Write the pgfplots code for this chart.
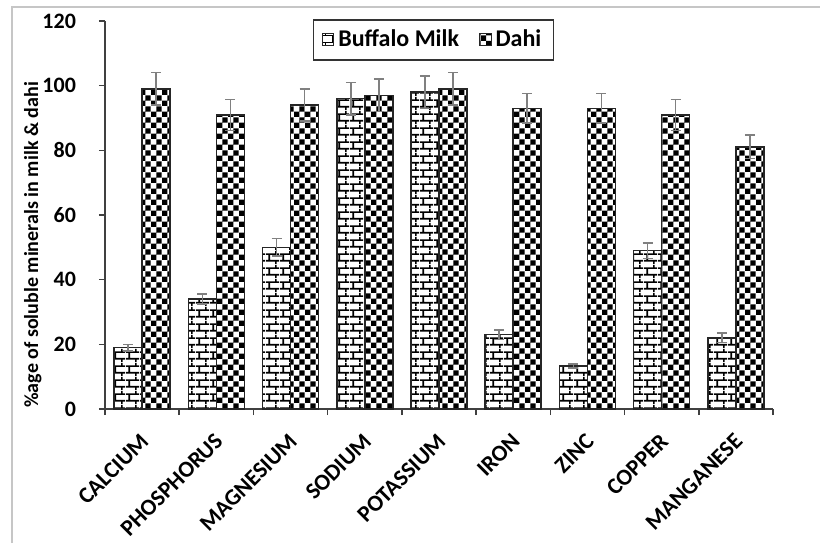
\documentclass[border=0pt]{standalone}
\usepackage{pgfplots}
\pgfplotsset{compat=1.18}
\usepackage{fontspec}
\setmainfont{Carlito}
\usetikzlibrary{patterns}

\pgfdeclarepatternformonly{mybricks}{\pgfqpoint{0pt}{0pt}}{\pgfqpoint{7pt}{7pt}}{\pgfqpoint{7pt}{7pt}}{%
  \pgfsetlinewidth{0.85pt}%
  \pgfpathmoveto{\pgfqpoint{0pt}{1.75pt}}\pgfpathlineto{\pgfqpoint{7pt}{1.75pt}}%
  \pgfpathmoveto{\pgfqpoint{0pt}{5.25pt}}\pgfpathlineto{\pgfqpoint{7pt}{5.25pt}}%
  \pgfpathmoveto{\pgfqpoint{1.75pt}{1.75pt}}\pgfpathlineto{\pgfqpoint{1.75pt}{5.25pt}}%
  \pgfpathmoveto{\pgfqpoint{5.25pt}{5.25pt}}\pgfpathlineto{\pgfqpoint{5.25pt}{7pt}}%
  \pgfpathmoveto{\pgfqpoint{5.25pt}{0pt}}\pgfpathlineto{\pgfqpoint{5.25pt}{1.75pt}}%
  \pgfusepath{stroke}%
}
\pgfdeclarepatternformonly{mycheck}{\pgfqpoint{0pt}{0pt}}{\pgfqpoint{5.4pt}{5.4pt}}{\pgfqpoint{5.4pt}{5.4pt}}{%
  \pgfpathrectangle{\pgfqpoint{0pt}{0pt}}{\pgfqpoint{2.7pt}{2.7pt}}%
  \pgfpathrectangle{\pgfqpoint{2.7pt}{2.7pt}}{\pgfqpoint{2.7pt}{2.7pt}}%
  \pgfusepath{fill}%
}

\pgfplotstableread{
x  buf  bufe  dahi  dahie
1  19   1.0   99    5.0
2  34   1.5   91    4.8
3  50   2.7   94    5.0
4  96   5.0   97    5.0
5  98   5.0   99    5.0
6  23   1.5   93    4.6
7  13.3 0.6   93    4.6
8  49   2.4   91    4.8
9  22   1.5   81.1  3.6
}\datatable

\begin{document}
\begin{tikzpicture}
\useasboundingbox (0,0) rectangle (410pt,271.5pt);
\draw[gray!45, line width=0.6pt] (6pt,0) -- (6pt,268pt) -- (410pt,268pt);
\begin{axis}[
  at={(52.5pt,67pt)}, anchor=south west,
  scale only axis, width=334pt, height=194pt,
  ybar=0pt, bar width=14pt,
  xmin=0.5, xmax=9.5, ymin=0, ymax=120,
  axis lines*=left,
  axis line style={black!75, line width=1pt},
  ytick={0,20,...,120},
  tick align=outside,
  major tick length=3pt,
  tick style={black!75, line width=0.8pt},
  xtick={0.5,1.5,...,9.5}, xticklabels={},
  extra x ticks={1,...,9},
  extra x tick labels={CALCIUM,PHOSPHORUS,MAGNESIUM,SODIUM,POTASSIUM,IRON,ZINC,COPPER,MANGANESE},
  extra x tick style={major tick length=0pt, tick style={draw=none}},
  xticklabel style={rotate=45, anchor=north east, font=\bfseries\fontsize{11.5}{13}\selectfont, inner sep=1pt, yshift=-6pt, xshift=-8pt},
  yticklabel style={font=\bfseries\fontsize{11}{13}\selectfont, xshift=-8pt},
  /pgf/number format/assume math mode=true,
  ylabel={\%age of soluble minerals in milk \& dahi},
  ylabel style={font=\bfseries\fontsize{10}{12}\selectfont, at={(axis description cs:-0.108,0.423)}, anchor=center},
  legend style={at={(0.4918,1.005)}, anchor=north, legend columns=2, draw=black!80, line width=0.8pt,
     font=\bfseries\fontsize{12}{14}\selectfont, inner xsep=4pt, inner ysep=3pt,
     /tikz/every even column/.append style={column sep=8pt}},
  legend image code/.code={\draw[#1, line width=0.5pt] (0pt,-2.8pt) rectangle (5.8pt,3pt);},
  error bars/y dir=both, error bars/y explicit,
  error bars/error bar style={gray, line width=0.75pt},
  error bars/error mark options={gray, rotate=90, mark size=2.5pt, line width=0.75pt},
]
\addplot[draw=black!85, line width=0.75pt, fill=white, postaction={pattern=mybricks}]
  table[x=x, y=buf, y error=bufe] {\datatable};
\addplot[draw=black!85, line width=0.75pt, fill=white, postaction={pattern=mycheck}]
  table[x=x, y=dahi, y error=dahie] {\datatable};
\legend{Buffalo Milk, Dahi}
\end{axis}
\end{tikzpicture}
\end{document}
